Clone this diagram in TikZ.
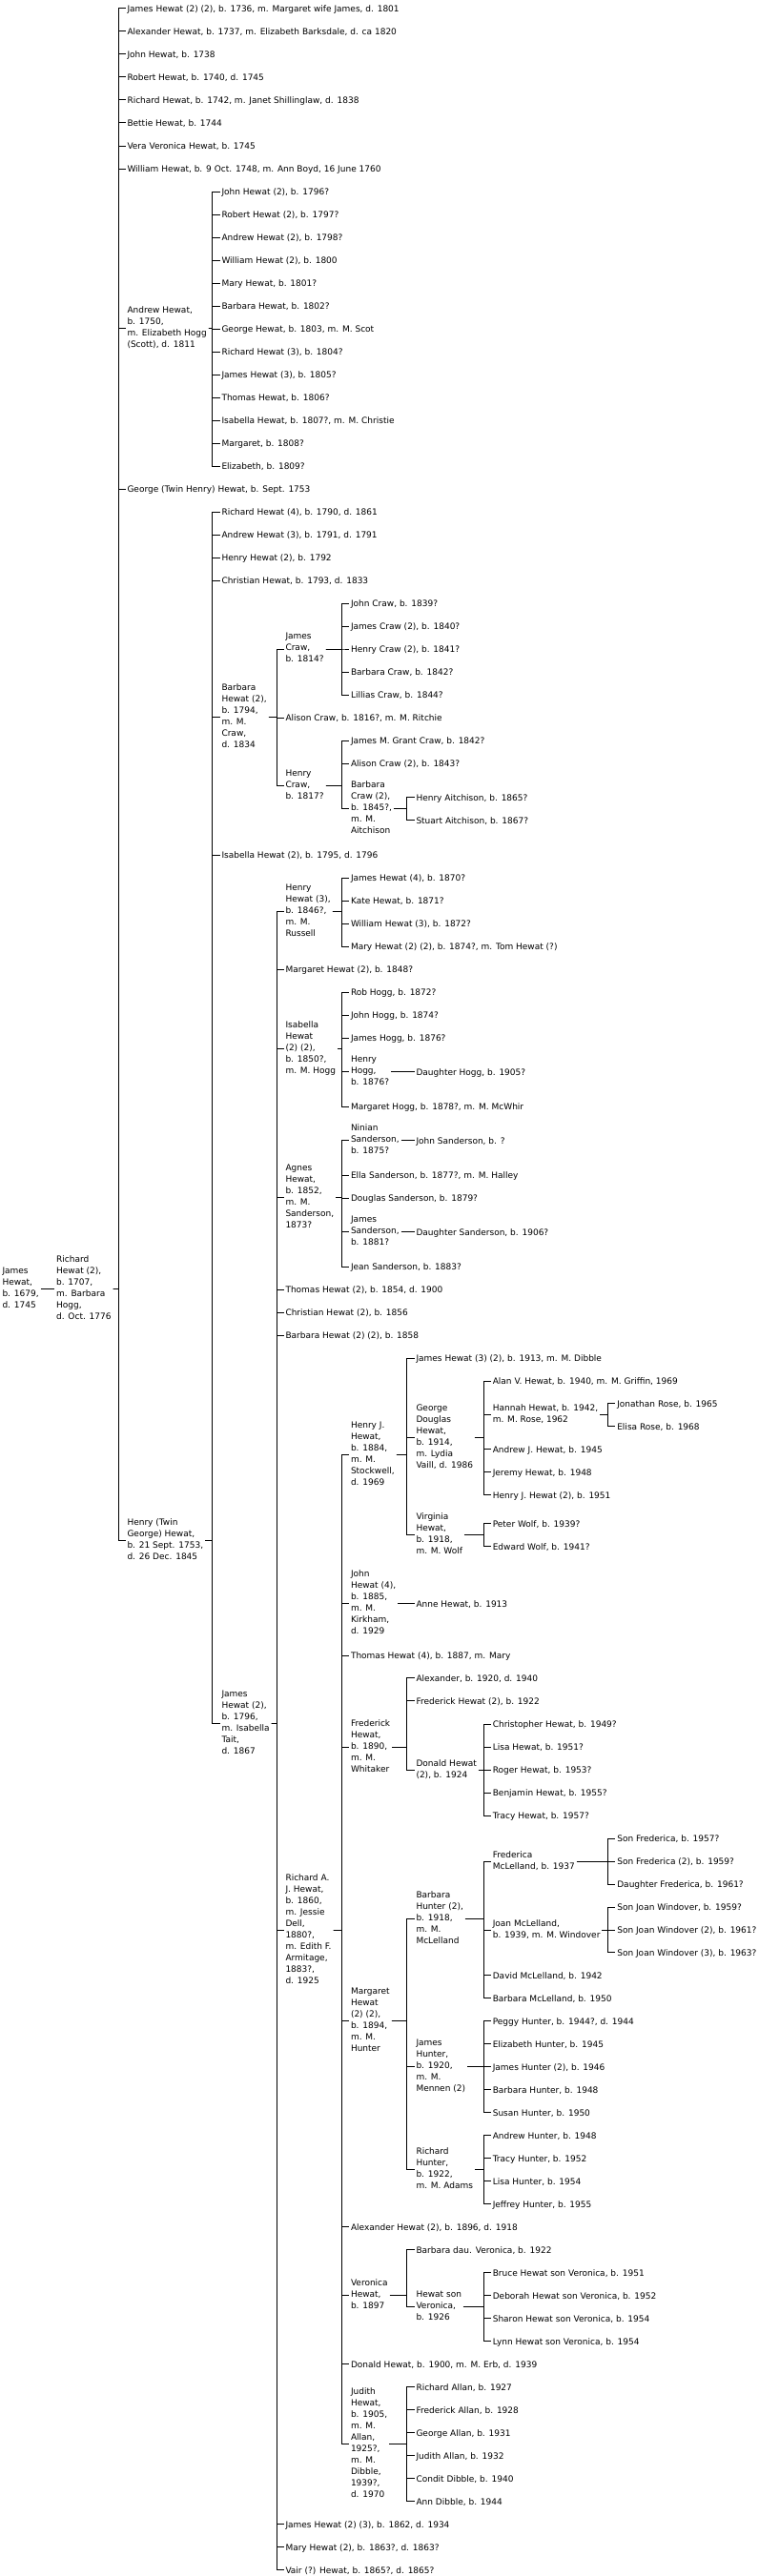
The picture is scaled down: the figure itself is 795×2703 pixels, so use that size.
\documentclass[tikz,border=0pt]{standalone}
\usepackage{fontspec}
\setmainfont{DejaVu Sans}
\newcommand\mystrut{\rule[-2.7pt]{0pt}{12pt}}
\newcommand\kids[3]{\foreach \ch in {#3}{\draw (#1.east) -- (#1.east -| #2) -- (\ch.west -| #2) -- (\ch.west);}}
\begin{document}
\begin{tikzpicture}[x=1pt,y=-1pt,line width=1pt,
  nd/.style={anchor=west,inner xsep=1.5pt,inner ysep=0pt,xshift=-1.5pt,align=left,
    font=\fontsize{9}{12}\selectfont,execute at begin node=\mystrut,execute at end node=\mystrut}]
\fill[white] (0,0) rectangle (795,2703);
\useasboundingbox (0,0) rectangle (795,2703);
\coordinate (b1) at (50,0);
\coordinate (b2) at (124.4,0);
\coordinate (b3) at (222.7,0);
\coordinate (b4) at (290,0);
\coordinate (b5) at (358.3,0);
\coordinate (b6) at (426.6,0);
\coordinate (b7) at (507.1,0);
\coordinate (b8) at (637.1,0);
% D0, D1
\node[nd] (n0) at (2,1352.7) {James\\Hewat,\\b. 1679,\\d. 1745};
\node[nd] (n1) at (58.6,1352.7) {Richard\\Hewat (2),\\b. 1707,\\m. Barbara\\Hogg,\\d. Oct. 1776};
% D2
\node[nd] (a1) at (133,9) {James Hewat (2) (2), b. 1736, m. Margaret wife James, d. 1801};
\node[nd] (a2) at (133,33) {Alexander Hewat, b. 1737, m. Elizabeth Barksdale, d. ca 1820};
\node[nd] (a3) at (133,57) {John Hewat, b. 1738};
\node[nd] (a4) at (133,81) {Robert Hewat, b. 1740, d. 1745};
\node[nd] (a5) at (133,105) {Richard Hewat, b. 1742, m. Janet Shillinglaw, d. 1838};
\node[nd] (a6) at (133,129) {Bettie Hewat, b. 1744};
\node[nd] (a7) at (133,153) {Vera Veronica Hewat, b. 1745};
\node[nd] (a8) at (133,177) {William Hewat, b. 9 Oct. 1748, m. Ann Boyd, 16 June 1760};
\node[nd] (a9) at (133,344.7) {Andrew Hewat,\\b. 1750,\\m. Elizabeth Hogg\\(Scott), d. 1811};
\node[nd] (a10) at (133,513) {George (Twin Henry) Hewat, b. Sept. 1753};
\node[nd] (a11) at (133,1616.7) {Henry (Twin\\George) Hewat,\\b. 21 Sept. 1753,\\d. 26 Dec. 1845};
% D3 under Andrew
\node[nd] (c1) at (232,201) {John Hewat (2), b. 1796?};
\node[nd] (c2) at (232,225) {Robert Hewat (2), b. 1797?};
\node[nd] (c3) at (232,249) {Andrew Hewat (2), b. 1798?};
\node[nd] (c4) at (232,273) {William Hewat (2), b. 1800};
\node[nd] (c5) at (232,297) {Mary Hewat, b. 1801?};
\node[nd] (c6) at (232,321) {Barbara Hewat, b. 1802?};
\node[nd] (c7) at (232,345) {George Hewat, b. 1803, m. M. Scot};
\node[nd] (c8) at (232,369) {Richard Hewat (3), b. 1804?};
\node[nd] (c9) at (232,393) {James Hewat (3), b. 1805?};
\node[nd] (c10) at (232,417) {Thomas Hewat, b. 1806?};
\node[nd] (c11) at (232,441) {Isabella Hewat, b. 1807?, m. M. Christie};
\node[nd] (c12) at (232,465) {Margaret, b. 1808?};
\node[nd] (c13) at (232,489) {Elizabeth, b. 1809?};
% D3 under Henry twin
\node[nd] (h1) at (232,537) {Richard Hewat (4), b. 1790, d. 1861};
\node[nd] (h2) at (232,561) {Andrew Hewat (3), b. 1791, d. 1791};
\node[nd] (h3) at (232,585) {Henry Hewat (2), b. 1792};
\node[nd] (h4) at (232,609) {Christian Hewat, b. 1793, d. 1833};
\node[nd] (h5) at (232,752.7) {Barbara\\Hewat (2),\\b. 1794,\\m. M.\\Craw,\\d. 1834};
\node[nd] (h6) at (232,897) {Isabella Hewat (2), b. 1795, d. 1796};
\node[nd] (h7) at (232,1808.7) {James\\Hewat (2),\\b. 1796,\\m. Isabella\\Tait,\\d. 1867};
% D4 under Barbara Hewat (2)
\node[nd] (k1) at (299,681) {James\\Craw,\\b. 1814?};
\node[nd] (k2) at (299,753) {Alison Craw, b. 1816?, m. M. Ritchie};
\node[nd] (k3) at (299,824.7) {Henry\\Craw,\\b. 1817?};
\node[nd] (k1a) at (367.5,633) {John Craw, b. 1839?};
\node[nd] (k1b) at (367.5,657) {James Craw (2), b. 1840?};
\node[nd] (k1c) at (367.5,681) {Henry Craw (2), b. 1841?};
\node[nd] (k1d) at (367.5,705) {Barbara Craw, b. 1842?};
\node[nd] (k1e) at (367.5,729) {Lillias Craw, b. 1844?};
\node[nd] (k3a) at (367.5,777) {James M. Grant Craw, b. 1842?};
\node[nd] (k3b) at (367.5,801) {Alison Craw (2), b. 1843?};
\node[nd] (k3c) at (367.5,848.7) {Barbara\\Craw (2),\\b. 1845?,\\m. M.\\Aitchison};
\node[nd] (k3c1) at (436,836.7) {Henry Aitchison, b. 1865?};
\node[nd] (k3c2) at (436,860.7) {Stuart Aitchison, b. 1867?};
% D4 under James Hewat (2)
\node[nd] (j1) at (299,956.7) {Henry\\Hewat (3),\\b. 1846?,\\m. M.\\Russell};
\node[nd] (j2) at (299,1017) {Margaret Hewat (2), b. 1848?};
\node[nd] (j3) at (299,1100.7) {Isabella\\Hewat\\(2) (2),\\b. 1850?,\\m. M. Hogg};
\node[nd] (j4) at (299,1256.7) {Agnes\\Hewat,\\b. 1852,\\m. M.\\Sanderson,\\1873?};
\node[nd] (j5) at (299,1353) {Thomas Hewat (2), b. 1854, d. 1900};
\node[nd] (j6) at (299,1377) {Christian Hewat (2), b. 1856};
\node[nd] (j7) at (299,1401) {Barbara Hewat (2) (2), b. 1858};
\node[nd] (j8) at (299,2025) {Richard A.\\J. Hewat,\\b. 1860,\\m. Jessie\\Dell,\\1880?,\\m. Edith F.\\Armitage,\\1883?,\\d. 1925};
\node[nd] (j9) at (299,2648.7) {James Hewat (2) (3), b. 1862, d. 1934};
\node[nd] (j10) at (299,2672.7) {Mary Hewat (2), b. 1863?, d. 1863?};
\node[nd] (j11) at (299,2696.7) {Vair (?) Hewat, b. 1865?, d. 1865?};
% D5
\node[nd] (j1a) at (367.5,921) {James Hewat (4), b. 1870?};
\node[nd] (j1b) at (367.5,945) {Kate Hewat, b. 1871?};
\node[nd] (j1c) at (367.5,969) {William Hewat (3), b. 1872?};
\node[nd] (j1d) at (367.5,993) {Mary Hewat (2) (2), b. 1874?, m. Tom Hewat (?)};
\node[nd] (j3a) at (367.5,1041) {Rob Hogg, b. 1872?};
\node[nd] (j3b) at (367.5,1065) {John Hogg, b. 1874?};
\node[nd] (j3c) at (367.5,1089) {James Hogg, b. 1876?};
\node[nd] (j3d) at (367.5,1124.7) {Henry\\Hogg,\\b. 1876?};
\node[nd] (j3e) at (367.5,1161) {Margaret Hogg, b. 1878?, m. M. McWhir};
\node[nd] (j3d1) at (436,1124.7) {Daughter Hogg, b. 1905?};
\node[nd] (j4a) at (367.5,1196.7) {Ninian\\Sanderson,\\b. 1875?};
\node[nd] (j4b) at (367.5,1233) {Ella Sanderson, b. 1877?, m. M. Halley};
\node[nd] (j4c) at (367.5,1257) {Douglas Sanderson, b. 1879?};
\node[nd] (j4d) at (367.5,1292.7) {James\\Sanderson,\\b. 1881?};
\node[nd] (j4e) at (367.5,1329) {Jean Sanderson, b. 1883?};
\node[nd] (j4a1) at (436,1196.7) {John Sanderson, b. ?};
\node[nd] (j4d1) at (436,1292.7) {Daughter Sanderson, b. 1906?};
% D5 under Richard A. J.
\node[nd] (r1) at (367.5,1526.7) {Henry J.\\Hewat,\\b. 1884,\\m. M.\\Stockwell,\\d. 1969};
\node[nd] (r2) at (367.5,1682.7) {John\\Hewat (4),\\b. 1885,\\m. M.\\Kirkham,\\d. 1929};
\node[nd] (r3) at (367.5,1737) {Thomas Hewat (4), b. 1887, m. Mary};
\node[nd] (r4) at (367.5,1833) {Frederick\\Hewat,\\b. 1890,\\m. M.\\Whitaker};
\node[nd] (r5) at (367.5,2120.7) {Margaret\\Hewat\\(2) (2),\\b. 1894,\\m. M.\\Hunter};
\node[nd] (r6) at (367.5,2336.7) {Alexander Hewat (2), b. 1896, d. 1918};
\node[nd] (r7) at (367.5,2408.7) {Veronica\\Hewat,\\b. 1897};
\node[nd] (r8) at (367.5,2480.7) {Donald Hewat, b. 1900, m. M. Erb, d. 1939};
\node[nd] (r9) at (367.5,2564.7) {Judith\\Hewat,\\b. 1905,\\m. M.\\Allan,\\1925?,\\m. M.\\Dibble,\\1939?,\\d. 1970};
% D6
\node[nd] (r1a) at (436,1425) {James Hewat (3) (2), b. 1913, m. M. Dibble};
\node[nd] (r1b) at (436,1508.7) {George\\Douglas\\Hewat,\\b. 1914,\\m. Lydia\\Vaill, d. 1986};
\node[nd] (r1c) at (436,1610.7) {Virginia\\Hewat,\\b. 1918,\\m. M. Wolf};
\node[nd] (g1) at (516.3,1449) {Alan V. Hewat, b. 1940, m. M. Griffin, 1969};
\node[nd] (g2) at (516.3,1484.7) {Hannah Hewat, b. 1942,\\m. M. Rose, 1962};
\node[nd] (g3) at (516.3,1520.7) {Andrew J. Hewat, b. 1945};
\node[nd] (g4) at (516.3,1544.7) {Jeremy Hewat, b. 1948};
\node[nd] (g5) at (516.3,1568.7) {Henry J. Hewat (2), b. 1951};
\node[nd] (g2a) at (646.8,1472.7) {Jonathan Rose, b. 1965};
\node[nd] (g2b) at (646.8,1496.7) {Elisa Rose, b. 1968};
\node[nd] (v1) at (516.3,1598.7) {Peter Wolf, b. 1939?};
\node[nd] (v2) at (516.3,1622.7) {Edward Wolf, b. 1941?};
\node[nd] (r2a) at (436,1682.7) {Anne Hewat, b. 1913};
\node[nd] (f1) at (436,1760.7) {Alexander, b. 1920, d. 1940};
\node[nd] (f2) at (436,1784.7) {Frederick Hewat (2), b. 1922};
\node[nd] (f3) at (436,1857) {Donald Hewat\\(2), b. 1924};
\node[nd] (f3a) at (516.3,1809) {Christopher Hewat, b. 1949?};
\node[nd] (f3b) at (516.3,1833) {Lisa Hewat, b. 1951?};
\node[nd] (f3c) at (516.3,1857) {Roger Hewat, b. 1953?};
\node[nd] (f3d) at (516.3,1881) {Benjamin Hewat, b. 1955?};
\node[nd] (f3e) at (516.3,1905) {Tracy Hewat, b. 1957?};
\node[nd] (m1) at (436,2013) {Barbara\\Hunter (2),\\b. 1918,\\m. M.\\McLelland};
\node[nd] (m2) at (436,2168.7) {James\\Hunter,\\b. 1920,\\m. M.\\Mennen (2)};
\node[nd] (m3) at (436,2276.7) {Richard\\Hunter,\\b. 1922,\\m. M. Adams};
\node[nd] (m1a) at (516.3,1953) {Frederica\\McLelland, b. 1937};
\node[nd] (m1b) at (516.3,2025) {Joan McLelland,\\b. 1939, m. M. Windover};
\node[nd] (m1c) at (516.3,2072.7) {David McLelland, b. 1942};
\node[nd] (m1d) at (516.3,2096.7) {Barbara McLelland, b. 1950};
\node[nd] (s1) at (646.8,1929) {Son Frederica, b. 1957?};
\node[nd] (s2) at (646.8,1953) {Son Frederica (2), b. 1959?};
\node[nd] (s3) at (646.8,1977) {Daughter Frederica, b. 1961?};
\node[nd] (t1) at (646.8,2001) {Son Joan Windover, b. 1959?};
\node[nd] (t2) at (646.8,2025) {Son Joan Windover (2), b. 1961?};
\node[nd] (t3) at (646.8,2048.7) {Son Joan Windover (3), b. 1963?};
\node[nd] (m2a) at (516.3,2120.7) {Peggy Hunter, b. 1944?, d. 1944};
\node[nd] (m2b) at (516.3,2144.7) {Elizabeth Hunter, b. 1945};
\node[nd] (m2c) at (516.3,2168.7) {James Hunter (2), b. 1946};
\node[nd] (m2d) at (516.3,2192.7) {Barbara Hunter, b. 1948};
\node[nd] (m2e) at (516.3,2216.7) {Susan Hunter, b. 1950};
\node[nd] (m3a) at (516.3,2240.7) {Andrew Hunter, b. 1948};
\node[nd] (m3b) at (516.3,2264.7) {Tracy Hunter, b. 1952};
\node[nd] (m3c) at (516.3,2288.7) {Lisa Hunter, b. 1954};
\node[nd] (m3d) at (516.3,2312.7) {Jeffrey Hunter, b. 1955};
\node[nd] (w1) at (436,2360.7) {Barbara dau. Veronica, b. 1922};
\node[nd] (w2) at (436,2420.7) {Hewat son\\Veronica,\\b. 1926};
\node[nd] (w2a) at (516.3,2384.7) {Bruce Hewat son Veronica, b. 1951};
\node[nd] (w2b) at (516.3,2408.7) {Deborah Hewat son Veronica, b. 1952};
\node[nd] (w2c) at (516.3,2432.7) {Sharon Hewat son Veronica, b. 1954};
\node[nd] (w2d) at (516.3,2456.7) {Lynn Hewat son Veronica, b. 1954};
\node[nd] (l1) at (436,2504.7) {Richard Allan, b. 1927};
\node[nd] (l2) at (436,2528.7) {Frederick Allan, b. 1928};
\node[nd] (l3) at (436,2552.7) {George Allan, b. 1931};
\node[nd] (l4) at (436,2576.7) {Judith Allan, b. 1932};
\node[nd] (l5) at (436,2600.7) {Condit Dibble, b. 1940};
\node[nd] (l6) at (436,2624.7) {Ann Dibble, b. 1944};
% connectors
\kids{n0}{b1}{n1}
\kids{n1}{b2}{a1,a2,a3,a4,a5,a6,a7,a8,a9,a10,a11}
\kids{a9}{b3}{c1,c2,c3,c4,c5,c6,c7,c8,c9,c10,c11,c12,c13}
\kids{a11}{b3}{h1,h2,h3,h4,h5,h6,h7}
\kids{h5}{b4}{k1,k2,k3}
\kids{k1}{b5}{k1a,k1b,k1c,k1d,k1e}
\kids{k3}{b5}{k3a,k3b,k3c}
\kids{k3c}{b6}{k3c1,k3c2}
\kids{h7}{b4}{j1,j2,j3,j4,j5,j6,j7,j8,j9,j10,j11}
\kids{j1}{b5}{j1a,j1b,j1c,j1d}
\kids{j3}{b5}{j3a,j3b,j3c,j3d,j3e}
\kids{j3d}{b6}{j3d1}
\kids{j4}{b5}{j4a,j4b,j4c,j4d,j4e}
\kids{j4a}{b6}{j4a1}
\kids{j4d}{b6}{j4d1}
\kids{j8}{b5}{r1,r2,r3,r4,r5,r6,r7,r8,r9}
\kids{r1}{b6}{r1a,r1b,r1c}
\kids{r1b}{b7}{g1,g2,g3,g4,g5}
\kids{g2}{b8}{g2a,g2b}
\kids{r1c}{b7}{v1,v2}
\kids{r2}{b6}{r2a}
\kids{r4}{b6}{f1,f2,f3}
\kids{f3}{b7}{f3a,f3b,f3c,f3d,f3e}
\kids{r5}{b6}{m1,m2,m3}
\kids{m1}{b7}{m1a,m1b,m1c,m1d}
\kids{m1a}{b8}{s1,s2,s3}
\kids{m1b}{b8}{t1,t2,t3}
\kids{m2}{b7}{m2a,m2b,m2c,m2d,m2e}
\kids{m3}{b7}{m3a,m3b,m3c,m3d}
\kids{r7}{b6}{w1,w2}
\kids{w2}{b7}{w2a,w2b,w2c,w2d}
\kids{r9}{b6}{l1,l2,l3,l4,l5,l6}
\end{tikzpicture}
\end{document}
